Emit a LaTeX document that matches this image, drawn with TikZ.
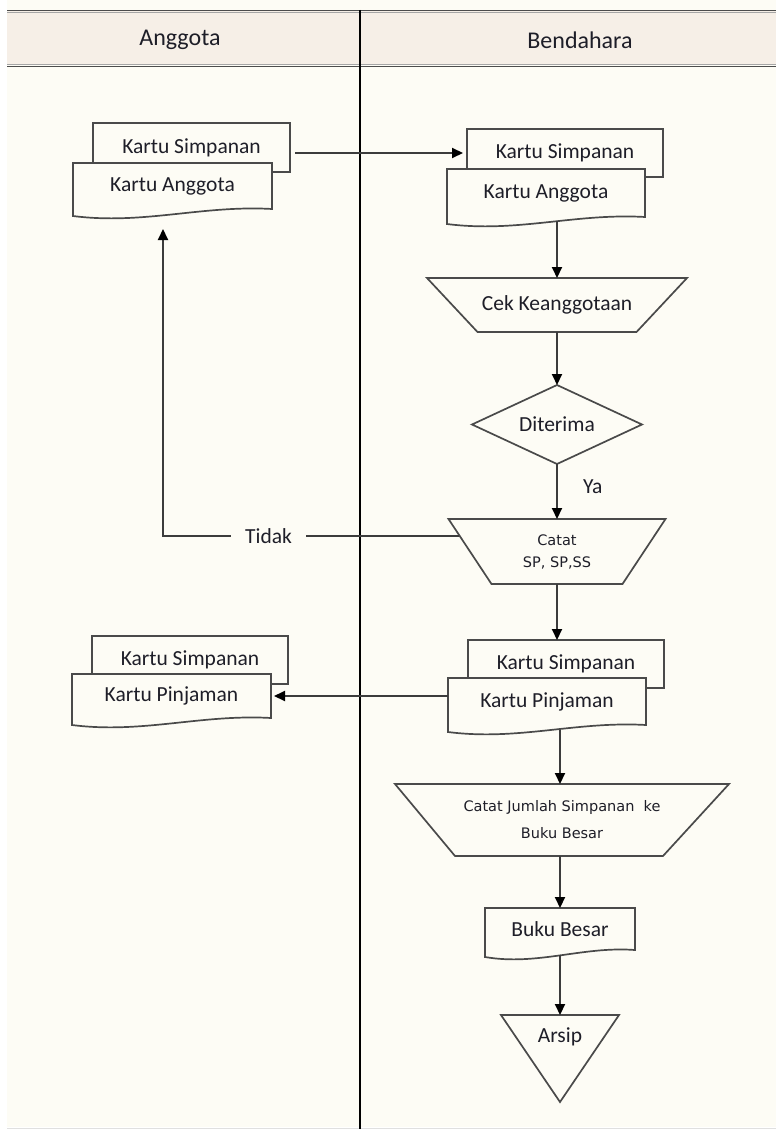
\documentclass[tikz,border=0pt]{standalone}
\usepackage{fontspec}
\setmainfont{Carlito}
\newfontfamily\smallfont{DejaVu Sans}
\usetikzlibrary{arrows.meta,calc,shapes.geometric,backgrounds}
\definecolor{bgc}{HTML}{FDFCF5}
\definecolor{hdrc}{HTML}{F6EFE7}
\definecolor{shpc}{HTML}{4A4A4A}
\definecolor{linec}{HTML}{3C3C3C}
\definecolor{txtc}{HTML}{1E1E28}
\newcommand\docshape[2]{%
  \draw[shp] (#1.south east) -- (#1.north east) -- (#1.north west) -- ($(#1.south west)+(0,7)$)
    .. controls ($(#1.south west)+(#2,16)$) and ($(#1.south east)+(-#2,-4)$) .. (#1.south east) -- cycle;}
\newcommand\backdoc[1]{\draw[shp] (#1.south west) rectangle (#1.north east);}
\begin{document}
\begin{tikzpicture}[x=1pt,y=-1pt,
  shp/.style={draw=shpc, line width=1.7pt, fill=bgc, line join=miter},
  box/.style={inner sep=0pt, outer sep=0pt, text=txtc, font=\fontsize{21.5}{25}\selectfont, align=center},
  small/.style={font=\smallfont\fontsize{14.5}{22}\selectfont},
  conn/.style={draw=linec, line width=2pt},
  arr/.style={conn, -{Triangle[length=11pt,width=10pt,color=black]}},
  hdrtext/.style={text=txtc, font=\fontsize{24}{28}\selectfont, inner sep=0pt}]
\useasboundingbox (0,0) rectangle (776,1129);

% header texts
\node[hdrtext] (hA) at (180,40) {Anggota};
\node[hdrtext] (hB) at (580,40) {Bendahara};

% nodes
\node[box, minimum width=197pt, minimum height=49pt] (ks1) at (191.5,147.5) {Kartu Simpanan};
\node[box, minimum width=199pt, minimum height=46pt] (ka1) at (172.5,186) {Kartu Anggota};
\node[box, minimum width=196pt, minimum height=48pt] (ks2) at (565,153) {Kartu Simpanan};
\node[box, minimum width=198pt, minimum height=48pt] (ka2) at (546,193) {Kartu Anggota};
\node[box, minimum width=260pt, minimum height=54pt] (cek) at (557,305) {Cek Keanggotaan};
\node[box, diamond, aspect=2.15, minimum width=170pt, minimum height=79pt, draw=shpc, line width=1.7pt, fill=bgc] (dit) at (557,424.5) {Diterima};
\node[box, small, minimum width=217pt, minimum height=65pt] (catat) at (557,551.5) {Catat\\SP, SP,SS};
\node[box, minimum width=196pt, minimum height=48pt] (ks3) at (566,664) {Kartu Simpanan};
\node[box, minimum width=198pt, minimum height=47pt] (kp2) at (547,701.5) {Kartu Pinjaman};
\node[box, minimum width=196pt, minimum height=48pt] (ks4) at (190,660) {Kartu Simpanan};
\node[box, minimum width=199pt, minimum height=44pt] (kp1) at (171.5,696) {Kartu Pinjaman};
\node[box, font=\smallfont\fontsize{14.5}{27}\selectfont, minimum width=334pt, minimum height=72pt] (cj) at (562,820) {Catat Jumlah Simpanan\ \ ke\\Buku Besar};
\node[box, minimum width=150pt, minimum height=42pt] (bb) at (560,929) {Buku Besar};
\node[box, minimum width=118pt, minimum height=87pt, label={[box, yshift=21.5pt]center:Arsip}] (arsip) at (560,1058.5) {};
\node[box, inner xsep=14.5pt] (tidak) at (268.5,536) {Tidak};
\coordinate (catL) at (459,536);
\coordinate (tidEnd) at (163,229);

% backgrounds and shapes
\begin{scope}[on background layer]
  \fill[white] (0,0) rectangle (776,1129);
  \fill[bgc] (7,0) rectangle (776,1127);
  \fill[hdrc] (7,11) rectangle (776,65.5);
  \draw[line width=1.4pt, draw=black!70] (7,10.7) -- (776,10.7);
  \draw[line width=1.4pt, draw=black!35] (7,12.6) -- (776,12.6);
  \draw[line width=1.4pt, draw=black!35] (7,64.4) -- (776,64.4);
  \draw[line width=1.4pt, draw=black!70] (7,66.3) -- (776,66.3);
  \draw[black!12, line width=1pt] (7,1128) -- (776,1128);
  \draw[black, line width=1.3pt] (360,10) -- (360,1129);
  \backdoc{ks1}
  \docshape{ka1}{70}
  \backdoc{ks2}
  \docshape{ka2}{70}
  \draw[shp] (cek.north west) -- (cek.north east) -- ($(cek.south east)+(-50.5,0)$) -- ($(cek.south west)+(50.5,0)$) -- cycle;
  \draw[shp] (catat.north west) -- (catat.north east) -- ($(catat.south east)+(-43,0)$) -- ($(catat.south west)+(43,0)$) -- cycle;
  \backdoc{ks3}
  \docshape{kp2}{70}
  \backdoc{ks4}
  \docshape{kp1}{70}
  \draw[shp] (cj.north west) -- (cj.north east) -- ($(cj.south east)+(-66,0)$) -- ($(cj.south west)+(60,0)$) -- cycle;
  \docshape{bb}{52}
  \draw[shp] (arsip.north west) -- (arsip.north east) -- (arsip.south) -- cycle;
\end{scope}

% connectors
\draw[arr, shorten <=5pt, shorten >=4pt] (ks1.east |- ks2.west) -- (ks2.west);
\draw[arr] ($(ka2.south -| cek.north)+(0,4)$) -- (cek.north);
\draw[arr] (cek.south) -- (dit.north);
\draw[arr] (dit.south) -- node[box, pos=0.42, anchor=west, xshift=26pt] (ya) {Ya} (dit.south |- catat.north);
\draw[conn] (catL) -- (tidak.east);
\draw[arr] (tidak.west) -- (tidak.west -| tidEnd) -- (tidEnd);
\draw[arr] (catat.south) -- (catat.south |- ks3.north);
\draw[arr, shorten >=3pt] (kp2.west |- kp1.east) -- (kp1.east);
\draw[arr] ($(kp2.south -| bb.north)+(0,4.5)$) -- (cj.north -| bb.north);
\draw[arr] (cj.south -| bb.north) -- (bb.north);
\draw[arr] ($(bb.south)+(0,5)$) -- (arsip.north);
\end{tikzpicture}
\end{document}
